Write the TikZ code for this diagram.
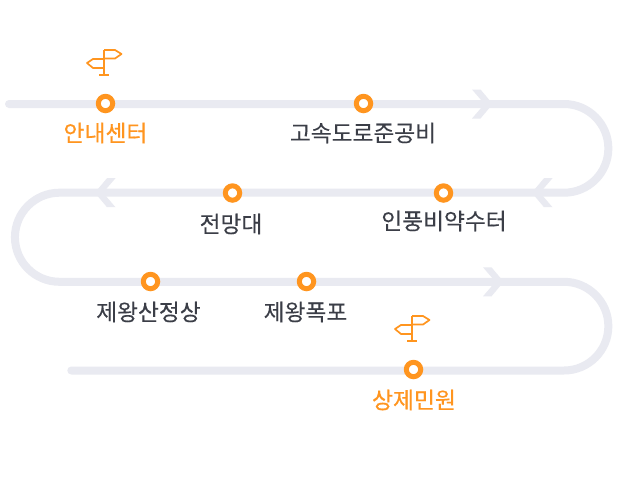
\documentclass[tikz,border=0pt]{standalone}
\usepackage{fontspec}
\newfontfamily\krfont[FakeBold=0.2]{Noto Sans CJK KR}
\newfontfamily\krheavy[FakeBold=0.5]{Noto Sans CJK KR}
\definecolor{roadgray}{HTML}{E9EAF1}
\definecolor{stoporange}{HTML}{FF951F}
\definecolor{labeldark}{HTML}{3B3E47}
\tikzset{
    road/.style={line width=8pt,draw=roadgray},
    stop/.style={circle,draw=stoporange,fill=white,line width=5pt,minimum size=14.4pt,inner sep=0pt},
    place/.style={font=\krfont\fontsize{22.7}{24}\selectfont,text=labeldark,inner sep=0pt},
    endplace/.style={font=\krheavy\fontsize{22.8}{24}\selectfont,text=stoporange,inner sep=0pt},
    pics/chevron/.style={code={
        \fill[roadgray] (-19,-14.5) -- (-10.5,-14.5) -- (0,-2) -- (0,2) -- (-10.5,14.5) -- (-19,14.5) -- (-6.5,0) -- cycle;
    }},
    pics/signpost/.style={code={
        \draw[stoporange,line width=1.7pt,line join=round] (0,0) -- (0,25) (-5,25) -- (5,25);
        \draw[stoporange,line width=1.7pt,line join=round] (0,0) -- (11,0) -- (17.5,4) -- (11,8.5) -- (0,8.5);
        \draw[stoporange,line width=1.7pt,line join=round] (0,9) -- (-11,9) -- (-17,13) -- (-11,18) -- (0,18);
    }}
}
\begin{document}
\begin{tikzpicture}[x=1pt,y=-1pt]
    \useasboundingbox[fill=white] (0,0) rectangle (619,485);

    \draw[road,line cap=round] (9,104) -- (564,104) arc[start angle=-90,end angle=90,radius=44.35]
        -- (59.5,192.7) arc[start angle=-90,end angle=-270,radius=44.55]
        -- (564,281.8) arc[start angle=-90,end angle=90,radius=44.35] -- (71.3,370.5);

    \pic at (491,104) {chevron};
    \pic[xscale=-1] at (533.5,192.7) {chevron};
    \pic[xscale=-1] at (96.5,192.7) {chevron};
    \pic at (502,281.8) {chevron};

    \pic at (104,50) {signpost};
    \pic at (412,316) {signpost};

    \node[stop] (guide) at (105.5,103.5) {};
    \node[stop] (tollway) at (363.5,103.5) {};
    \node[stop] (spring) at (443.5,193) {};
    \node[stop] (lookout) at (232.5,193) {};
    \node[stop] (summit) at (150.5,281.5) {};
    \node[stop] (falls) at (306.5,281.5) {};
    \node[stop] (wonju) at (413.5,369.5) {};

    \node[endplace] (guidetext) at (105.5,133) {안내센터};
    \node[place] (tollwaytext) at (363,133) {고속도로준공비};
    \node[place] (springtext) at (444,221) {인풍비약수터};
    \node[place] (lookouttext) at (231,224) {전망대};
    \node[place] (summittext) at (148.5,312) {제왕산정상};
    \node[place] (fallstext) at (305.5,312) {제왕폭포};
    \node[endplace] (wonjutext) at (414,400) {상제민원};
\end{tikzpicture}
\end{document}
